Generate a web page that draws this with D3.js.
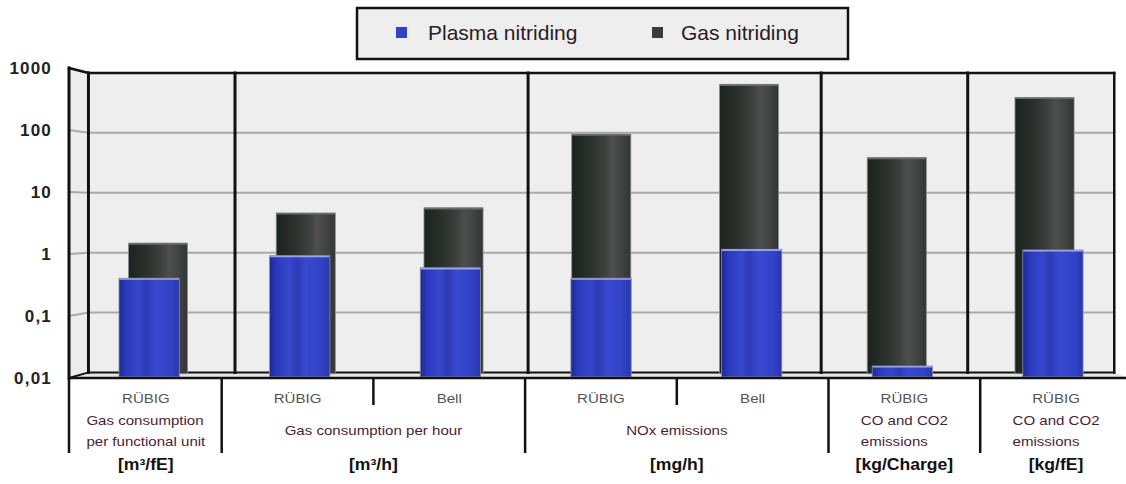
<!DOCTYPE html>
<html>
<head>
<meta charset="utf-8">
<script src="https://cdn.jsdelivr.net/npm/d3@7"></script>
<style>
  html, body { margin: 0; padding: 0; background: #ffffff; }
  svg { display: block; font-family: "Liberation Sans", Arial, sans-serif; }
</style>
</head>
<body>
<svg id="chart" width="1126" height="484"></svg>
<script>
// ---- data ----
const categories = ["RÜBIG", "RÜBIG", "Bell", "RÜBIG", "Bell", "RÜBIG", "RÜBIG"];
const plasmaValues = [0.40, 0.93, 0.59, 0.40, 1.18, 0.015, 1.15];
const gasValues = [1.46, 4.6, 5.6, 93, 620, 38, 375];
const groupLabels = [
  ["Gas consumption", "per functional unit"],
  ["Gas consumption per hour"],
  ["NOx emissions"],
  ["CO and CO2", "emissions"],
  ["CO and CO2", "emissions"]
];
const groupUnits = ["[m³/fE]", "[m³/h]", "[mg/h]", "[kg/Charge]", "[kg/fE]"];
const groupSlots = [1, 2, 2, 1, 1];
const yTickValues = [0.01, 0.1, 1, 10, 100, 1000];
const yTickLabels = ["0,01", "0,1", "1", "10", "100", "1000"];
const seriesNames = ["Plasma nitriding", "Gas nitriding"];

// ---- layout ----
const svg = d3.select("#chart");
const idx = d3.range(categories.length);

// front plane scales
const x = d3.scaleBand().domain(idx).range([70, 1131.9]).padding(0);
const y = d3.scaleLog().domain([0.01, 1000]).range([378, 68]);

// simple perspective toward a vanishing point
const vp = { x: 613, y: 214 };
const DEPTH_BACK = 0.966, DEPTH_GAS = 0.974, DEPTH_PLASMA = 0.993;
const px = (fx, f) => vp.x + (fx - vp.x) * f;
const py = (fy, f) => vp.y + (fy - vp.y) * f;

const xFront0 = x.range()[0], xFront1 = x.range()[1];
const yBottom = y(0.01), yTop = y(1000);

// group boundaries as slot indices
const boundaries = [];
let acc = 0;
groupSlots.forEach(s => { acc += s; boundaries.push(acc); });
const slotEdge = k => xFront0 + k * x.bandwidth();

// ---- gradients ----
const defs = svg.append("defs");
const blueGrad = defs.append("linearGradient").attr("id", "gradPlasma");
[[0, "#1d2896"], [0.12, "#2b3abb"], [0.33, "#3747cc"], [0.45, "#2c3ab5"], [0.6, "#3949d0"], [0.85, "#3343c6"], [1, "#2936b0"]]
  .forEach(([o, c]) => blueGrad.append("stop").attr("offset", o).attr("stop-color", c));
const darkGrad = defs.append("linearGradient").attr("id", "gradGas");
[[0, "#1c221e"], [0.3, "#2b302c"], [0.55, "#3d403e"], [0.68, "#4d4e4d"], [0.82, "#444645"], [1, "#323533"]]
  .forEach(([o, c]) => darkGrad.append("stop").attr("offset", o).attr("stop-color", c));

// ---- walls ----
const backL = px(xFront0, DEPTH_BACK), backR = px(xFront1, DEPTH_BACK);
const backT = py(yTop, DEPTH_BACK), backB = py(yBottom, DEPTH_BACK);
const sideX = 69;

svg.append("rect")
  .attr("x", backL).attr("y", backT)
  .attr("width", backR - backL).attr("height", backB - backT)
  .attr("fill", "#eeeeee");

// side wall
svg.append("polygon")
  .attr("points", [[sideX, yTop], [backL, backT], [backL, backB], [sideX, yBottom]].map(p => p.join(",")).join(" "))
  .attr("fill", "#ececec");

// gridlines on back wall and side wall
const grid = svg.append("g").attr("stroke", "#a9a9a9").attr("stroke-width", 2).attr("fill", "none");
yTickValues.slice(1, -1).forEach(v => {
  const yb = py(y(v), DEPTH_BACK);
  grid.append("line").attr("x1", backL).attr("x2", backR).attr("y1", yb).attr("y2", yb);
  grid.append("line").attr("x1", sideX).attr("x2", backL).attr("y1", y(v)).attr("y2", yb);
});

// floor
svg.append("polygon")
  .attr("points", [[sideX, yBottom], [backL, backB], [backR, backB], [1126, yBottom - 1]].map(p => p.join(",")).join(" "))
  .attr("fill", "#e4e4e4");

// wall outlines and group dividers on the back wall
const frame = svg.append("g").attr("stroke", "#111").attr("fill", "none").attr("stroke-linecap", "square");
frame.append("line").attr("x1", backL).attr("x2", backR).attr("y1", backT).attr("y2", backT).attr("stroke-width", 2.5);
frame.append("line").attr("x1", backL).attr("x2", backR).attr("y1", backB).attr("y2", backB).attr("stroke-width", 2);
frame.append("line").attr("x1", backR).attr("x2", backR).attr("y1", backT).attr("y2", backB).attr("stroke-width", 2.5);
frame.append("line").attr("x1", backL).attr("x2", backL).attr("y1", backT).attr("y2", backB).attr("stroke-width", 3);
frame.append("line").attr("x1", sideX).attr("x2", sideX).attr("y1", yTop).attr("y2", yBottom).attr("stroke-width", 3);
frame.append("line").attr("x1", sideX).attr("x2", backL).attr("y1", yTop).attr("y2", backT).attr("stroke-width", 2.5);
frame.append("line").attr("x1", sideX).attr("x2", backL).attr("y1", yBottom).attr("y2", backB).attr("stroke-width", 2);
boundaries.slice(0, -1).forEach(k => {
  const bx = px(slotEdge(k), DEPTH_BACK);
  frame.append("line").attr("x1", bx).attr("x2", bx).attr("y1", backT).attr("y2", backB).attr("stroke-width", 3);
});

// ---- bars ----
function drawBars(values, depth, fill, cls, edge) {
  const g = svg.append("g").attr("class", cls);
  const w = x.bandwidth() * 0.4;
  values.forEach((v, i) => {
    const cx = x(i) + x.bandwidth() / 2;
    const x0 = px(cx - w / 2, depth), x1 = px(cx + w / 2, depth);
    const y0 = py(y(v), depth), y1 = py(yBottom, depth);
    g.append("rect")
      .attr("x", x0).attr("y", y0)
      .attr("width", x1 - x0).attr("height", Math.max(1, y1 - y0))
      .attr("fill", fill)
      .attr("stroke", "#8a8f96").attr("stroke-width", 0.8);
    g.append("line")
      .attr("x1", x0 + 0.5).attr("x2", x1 - 0.5).attr("y1", y0 + 0.8).attr("y2", y0 + 0.8)
      .attr("stroke", edge).attr("stroke-width", 1.6);
  });
}
drawBars(gasValues, DEPTH_GAS, "url(#gradGas)", "gas", "#6a6d6b");
drawBars(plasmaValues, DEPTH_PLASMA, "url(#gradPlasma)", "plasma", "#9aa6ec");

// front edge of floor
svg.append("line")
  .attr("x1", sideX).attr("x2", 1126).attr("y1", yBottom).attr("y2", yBottom)
  .attr("stroke", "#111").attr("stroke-width", 2.5);

// ---- y axis labels ----
const yAxis = d3.axisLeft(y)
  .tickValues(yTickValues)
  .tickFormat((d, i) => yTickLabels[i])
  .tickSize(0).tickPadding(8);
const yAxisG = svg.append("g").attr("transform", "translate(60,0)").call(yAxis);
yAxisG.select(".domain").remove();
yAxisG.selectAll("text")
  .attr("font-family", "\"Liberation Sans\", Arial, sans-serif")
  .attr("font-size", 17).attr("font-weight", "bold")
  .attr("letter-spacing", 1.2)
  .attr("fill", "#222");

// ---- category area ----
const lab = svg.append("g");
const divG = lab.append("g").attr("stroke", "#111").attr("stroke-width", 2.5);
divG.append("line").attr("x1", sideX).attr("x2", sideX).attr("y1", yBottom).attr("y2", 453);
idx.slice(1).forEach(k => {
  const isGroup = boundaries.includes(k);
  const ex = slotEdge(k);
  divG.append("line").attr("x1", ex).attr("x2", ex)
    .attr("y1", yBottom).attr("y2", isGroup ? 453 : 405);
});

const stretch = 1.16;
categories.forEach((c, i) => {
  lab.append("text")
    .attr("transform", `translate(${x(i) + x.bandwidth() / 2},403) scale(${stretch},1)`)
    .attr("text-anchor", "middle")
    .attr("font-size", 13).attr("fill", "#555")
    .text(c);
});

let start = 0;
groupLabels.forEach((lines, gi) => {
  const gx = slotEdge(start) + groupSlots[gi] * x.bandwidth() / 2;
  const multi = lines.length > 1;
  const g = lab.append("g").attr("transform", `translate(${gx},0) scale(${stretch},1)`);
  const texts = lines.map((t, li) => g.append("text")
    .attr("y", multi ? 425 + li * 21 : 435)
    .attr("font-size", 13).attr("fill", "#4a1c3c")
    .text(t));
  if (multi) {
    const maxW = d3.max(texts, t => t.node().getComputedTextLength());
    texts.forEach(t => t.attr("x", -maxW / 2).attr("text-anchor", "start"));
  } else {
    texts.forEach(t => t.attr("x", 0).attr("text-anchor", "middle"));
  }
  lab.append("text")
    .attr("transform", `translate(${gx},470) scale(1.1,1)`)
    .attr("text-anchor", "middle")
    .attr("font-size", 16).attr("font-weight", "bold").attr("fill", "#111")
    .text(groupUnits[gi]);
  start += groupSlots[gi];
});

// ---- legend ----
const legend = svg.append("g");
legend.append("rect")
  .attr("x", 357).attr("y", 8).attr("width", 491).attr("height", 51)
  .attr("fill", "#eeeeee").attr("stroke", "#111").attr("stroke-width", 2.5);
const legendItems = [
  { name: seriesNames[0], color: "#3242c8", mx: 396, tx: 428 },
  { name: seriesNames[1], color: "#3a3c3b", mx: 652, tx: 681 }
];
legendItems.forEach(d => {
  legend.append("rect").attr("x", d.mx).attr("y", 27).attr("width", 11).attr("height", 11).attr("fill", d.color);
  legend.append("text").attr("x", d.tx).attr("y", 40)
    .attr("font-size", 21).attr("fill", "#2a1b25").text(d.name);
});
</script>
</body>
</html>
